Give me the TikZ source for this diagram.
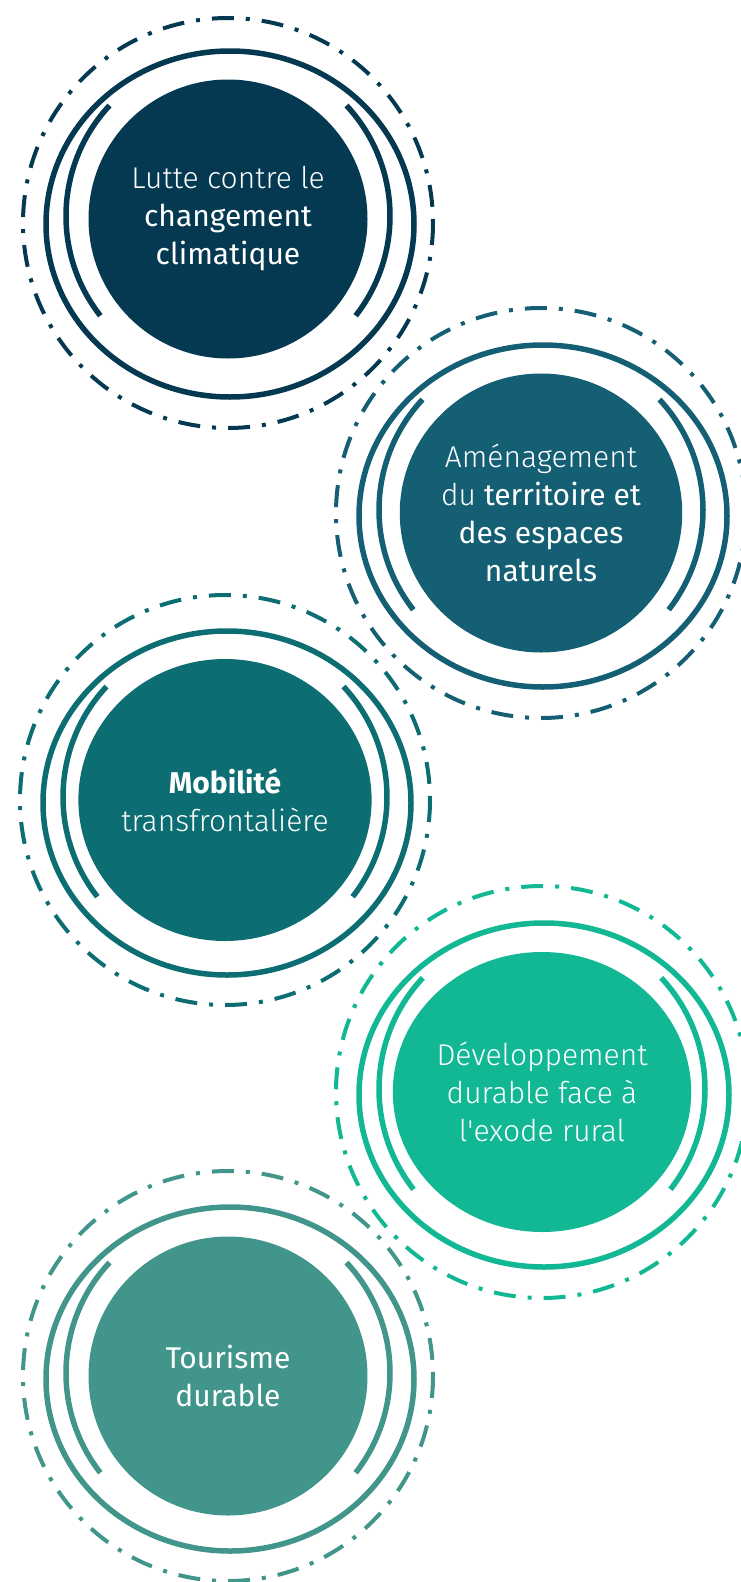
\documentclass[tikz,border=0pt]{standalone}
\usepackage{fontspec}
\setmainfont{Fira Sans}
\newfontfamily\lightfont{Fira Sans Light}
\usetikzlibrary{shapes.geometric}

\definecolor{navy}{RGB}{4,57,81}
\definecolor{petrol}{RGB}{20,95,115}
\definecolor{teal}{RGB}{12,110,115}
\definecolor{mint}{RGB}{18,184,148}
\definecolor{sage}{RGB}{65,149,138}

\tikzset{
  disc/.style={ellipse, inner sep=0pt, text=white, align=center,
    font=\fontsize{30}{38}\selectfont},
  ring/.style={line width=5.5pt},
  halfring/.style={line width=5.5pt},
  dashring/.style={line width=4pt, dash pattern=on 22pt off 12pt on 4pt off 12pt},
}

\begin{document}
\begin{tikzpicture}
    [x={(1pt,0pt)},y={(0pt,-1pt)}]
    \useasboundingbox (0,0) rectangle (741,1582);
    \clip (0,0) rectangle (741,1582);

    % climat
    \node[disc, fill=navy, minimum width=279pt, minimum height=279pt] (climat) at (228,219)
      {{\lightfont Lutte contre le}\\changement\\climatique};
    \draw[ring, navy] (climat.center) ++(2,5) ellipse [x radius=184, y radius=173];
    \draw[halfring, navy] (climat.center) ++(0,-3) ++(142:162) arc[start angle=142, end angle=223, radius=162];
    \draw[halfring, navy] (climat.center) ++(0,-3) ++(-43:162) arc[start angle=-43, end angle=38, radius=162];
    \draw[dashring, navy] (climat.center) ++(0,4) circle [radius=205];

    % territoire
    \node[disc, fill=petrol, minimum width=279pt, minimum height=279pt] (territoire) at (541,513)
      {{\lightfont Aménagement}\\{\lightfont du} territoire et\\des espaces\\naturels};
    \draw[ring, petrol] (territoire.center) ++(2,3) ellipse [x radius=184, y radius=171];
    \draw[halfring, petrol] (territoire.center) ++(0,-3) ++(142:162) arc[start angle=142, end angle=223, radius=162];
    \draw[halfring, petrol] (territoire.center) ++(0,-3) ++(-43:162) arc[start angle=-43, end angle=38, radius=162];
    \draw[dashring, petrol] (territoire.center) circle [radius=205];

    % mobilite
    \node[disc, fill=teal, minimum width=282pt, minimum height=282pt] (mobilite) at (225,800)
      {\textbf{Mobilité}\\{\lightfont transfrontalière}};
    \draw[ring, teal] (mobilite.center) ++(2,3) ellipse [x radius=184, y radius=172];
    \draw[halfring, teal] (mobilite.center) ++(0,-3) ++(142:162) arc[start angle=142, end angle=223, radius=162];
    \draw[halfring, teal] (mobilite.center) ++(0,-3) ++(-43:162) arc[start angle=-43, end angle=38, radius=162];
    \draw[dashring, teal] (mobilite.center) circle [radius=205];

    % exode
    \node[disc, fill=mint, minimum width=295pt, minimum height=280pt, font=\fontsize{30}{38}\lightfont] (exode) at (542,1092)
      {Développement\\durable face à\\l\textquotesingle exode rural};
    \draw[ring, mint] (exode.center) ++(2,3) ellipse [x radius=185, y radius=172];
    \draw[halfring, mint] (exode.center) ++(0,-3) ++(142:163) arc[start angle=142, end angle=223, radius=163];
    \draw[halfring, mint] (exode.center) ++(0,-3) ++(-43:163) arc[start angle=-43, end angle=38, radius=163];
    \draw[dashring, mint] (exode.center) circle [radius=206];

    % tourisme
    \node[disc, fill=sage, minimum width=279pt, minimum height=279pt] (tourisme) at (228,1376)
      {Tourisme\\durable};
    \draw[ring, sage] (tourisme.center) ++(2,3) ellipse [x radius=184, y radius=172];
    \draw[halfring, sage] (tourisme.center) ++(0,-3) ++(142:162) arc[start angle=142, end angle=223, radius=162];
    \draw[halfring, sage] (tourisme.center) ++(0,-3) ++(-43:162) arc[start angle=-43, end angle=38, radius=162];
    \draw[dashring, sage] (tourisme.center) circle [radius=205];
  \end{tikzpicture}
\end{document}
